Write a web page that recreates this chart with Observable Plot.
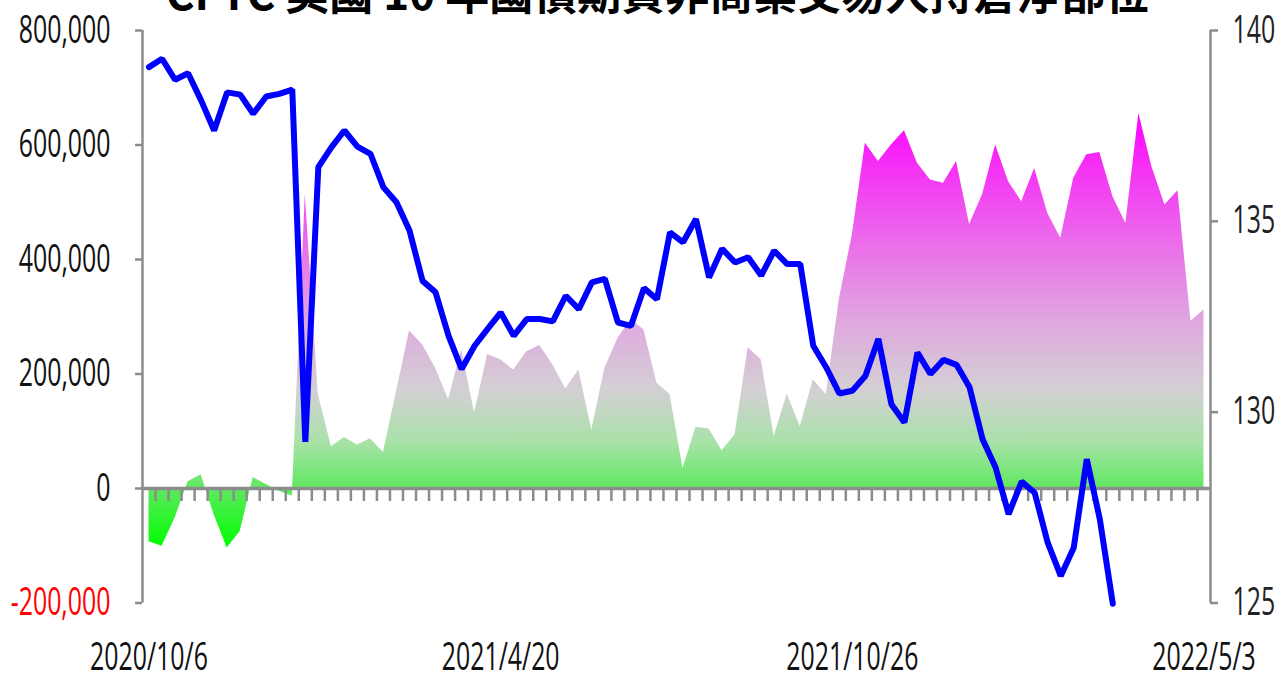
<!DOCTYPE html>
<html><head><meta charset="utf-8">
<script src="https://cdn.jsdelivr.net/npm/d3@7"></script>
<script src="https://cdn.jsdelivr.net/npm/@observablehq/plot@0.6"></script>
<style>
body{margin:0;background:#fff;overflow:hidden}
#wrap{position:relative;width:1281px;height:681px;overflow:hidden;background:#fff}
#title{position:absolute;left:0;top:-31px;width:1315px;text-align:center;font-family:"Noto Sans CJK TC",sans-serif;font-weight:bold;font-size:44px;line-height:44px;color:#000;white-space:nowrap;z-index:2}
</style></head><body>
<div id="wrap"><div id="title">CFTC 美國 10 年國債期貨非商業交易人持倉淨部位</div><div id="chart"></div></div>
<script>
// Weekly report dates (categories)
const dates = [
"2020/10/6","2020/10/13","2020/10/20","2020/10/27","2020/11/3","2020/11/10","2020/11/17","2020/11/24","2020/12/1","2020/12/8","2020/12/15","2020/12/22",
"2021/1/5","2021/1/12","2021/1/19","2021/1/26","2021/2/2","2021/2/9","2021/2/16","2021/2/23","2021/3/2","2021/3/9","2021/3/16","2021/3/23","2021/3/30","2021/4/6","2021/4/13","2021/4/20",
"2021/4/27","2021/5/4","2021/5/11","2021/5/18","2021/5/25","2021/6/1","2021/6/8","2021/6/15","2021/6/22","2021/6/29","2021/7/6","2021/7/13","2021/7/20","2021/7/27",
"2021/8/3","2021/8/10","2021/8/17","2021/8/24","2021/8/31","2021/9/7","2021/9/14","2021/9/21","2021/9/28","2021/10/5","2021/10/12","2021/10/19","2021/10/26",
"2021/11/2","2021/11/9","2021/11/16","2021/11/23","2021/11/30","2021/12/7","2021/12/14","2021/12/21","2021/12/28",
"2022/1/4","2022/1/11","2022/1/18","2022/1/25","2022/2/1","2022/2/8","2022/2/15","2022/2/22","2022/3/1","2022/3/8","2022/3/15","2022/3/22","2022/3/29",
"2022/4/5","2022/4/12","2022/4/19","2022/4/26","2022/5/3"
];
// Non-commercial net position (contracts), left axis
const netPositions = [
-93000,-101000,-52000,12000,24000,-46000,-104000,-75000,19000,7000,-5000,-13000,
513000,164000,73000,89000,76000,87000,63000,169000,275000,251000,210000,155000,242000,132000,234000,225000,
207000,239000,250000,216000,174000,207000,102000,210000,262000,295000,277000,184000,164000,35000,
107000,104000,66000,94000,246000,225000,91000,165000,108000,190000,164000,330000,443000,
603000,571000,600000,625000,568000,539000,533000,571000,461000,
513000,600000,536000,501000,559000,481000,437000,542000,583000,587000,510000,463000,655000,
562000,495000,520000,292000,312000
];
// 10-year T-note futures price, right axis (ends earlier than positions)
const futuresPrice = [
139.04,139.26,138.71,138.88,138.17,137.38,138.38,138.32,137.82,138.27,138.34,138.45,
129.22,136.42,136.94,137.38,136.96,136.77,135.89,135.50,134.76,133.44,133.14,132.00,131.13,131.74,132.18,132.61,
132.00,132.44,132.44,132.38,133.05,132.70,133.40,133.49,132.35,132.26,133.25,132.96,134.71,134.45,
135.06,133.53,134.28,133.92,134.06,133.58,134.23,133.88,133.88,131.74,131.17,130.49,130.56,
130.95,131.92,130.21,129.73,131.56,131.00,131.37,131.24,130.65,
129.29,128.55,127.33,128.18,127.89,126.58,125.71,126.45,128.77,127.20,124.98
];
const leftTicks = [-200000, 0, 200000, 400000, 600000, 800000];
const rightTicks = [125, 130, 135, 140];
const xTickLabels = ["2020/10/6","2021/4/20","2021/10/26","2022/5/3"];

// ---- layout / style ----
const W = 1281, H = 681, mL = 142, mR = 71, mT = 30, mB = 78.5;
const step = (W - mL - mR) / dates.length;
const plotH = H - mT - mB;
const yDomain = [-200000, 800000];
const unitsPerPx = (yDomain[1] - yDomain[0]) / plotH;
const xDomain = [-0.5, dates.length - 0.5];
const priceToY = d3.scaleLinear([125, 140], yDomain);
const axisColor = "#8c8c8c";
const FS = 38, SX = 0.655;

const rows = dates.map((d, i) => ({i, date: d, net: netPositions[i]}));
const priceRows = futuresPrice.map((p, i) => ({i, p}));

const chart = Plot.plot({
  width: W, height: H,
  marginLeft: mL, marginRight: mR, marginTop: mT, marginBottom: mB,
  x: {type: "linear", domain: xDomain, axis: null},
  y: {domain: yDomain, axis: null},
  style: {fontFamily: "'Open Sans', sans-serif", background: "white", overflow: "visible"},
  marks: [
    Plot.areaY(rows, {x: "i", y: "net", fill: "url(#netGrad)"}),
    Plot.ruleX(xDomain, {stroke: axisColor, strokeWidth: 2.5}),
    Plot.ruleY([0], {x1: xDomain[0], x2: xDomain[1], stroke: axisColor, strokeWidth: 3.5}),
    Plot.ruleX(dates.slice(1), {x: (d, k) => k + 0.5, y1: 0, y2: -13 * unitsPerPx, stroke: axisColor, strokeWidth: 2.5}),
    Plot.ruleY(leftTicks, {y: d => d, x1: xDomain[0] - 7 / step, x2: xDomain[0], stroke: axisColor, strokeWidth: 2.5}),
    Plot.ruleY(rightTicks, {y: d => priceToY(d), x1: xDomain[1], x2: xDomain[1] + 8 / step, stroke: axisColor, strokeWidth: 2.5}),
    Plot.text(leftTicks.filter(d => d >= 0), {x: xDomain[0], y: d => d, text: d => d3.format(",")(d), textAnchor: "end", dx: -32, fontSize: FS, fill: "#111"}),
    Plot.text(leftTicks.filter(d => d < 0), {x: xDomain[0], y: d => d, text: d => d3.format(",")(d).replace("−", "-"), textAnchor: "end", dx: -32, fontSize: FS, fill: "#ff0000"}),
    Plot.text(rightTicks, {x: xDomain[1], y: d => priceToY(d), text: d => String(d), textAnchor: "start", dx: 22, fontSize: FS, fill: "#222"}),
    Plot.text(xTickLabels, {x: d => dates.indexOf(d), y: yDomain[0], dy: 55, text: d => d, fontSize: FS, fill: "#111"}),
    Plot.lineY(priceRows, {x: "i", y: d => priceToY(d.p), stroke: "#0000ff", strokeWidth: 6, strokeLinejoin: "miter"})
  ]
});

// gradient fill for the net-position area
const ns = "http://www.w3.org/2000/svg";
const ys = chart.scale("y");
const yPx = d3.scaleLinear(ys.domain, ys.range);
const netMax = d3.max(netPositions), netMin = d3.min(netPositions);
const gradStops = [
  [655000, "#ff00ff"], [560000, "#f531f5"], [420000, "#ea70ea"], [290000, "#dfa8df"],
  [170000, "#d3d0d3"], [80000, "#a8e2a8"], [0, "#5fe85f"], [-104000, "#00ff00"]
];
const defs = document.createElementNS(ns, "defs");
const grad = document.createElementNS(ns, "linearGradient");
grad.setAttribute("id", "netGrad");
grad.setAttribute("gradientUnits", "userSpaceOnUse");
grad.setAttribute("x1", 0); grad.setAttribute("x2", 0);
grad.setAttribute("y1", yPx(netMax)); grad.setAttribute("y2", yPx(netMin));
for (const [v, c] of gradStops) {
  const s = document.createElementNS(ns, "stop");
  s.setAttribute("offset", Math.max(0, Math.min(1, (netMax - v) / (netMax - netMin))));
  s.setAttribute("stop-color", c);
  grad.appendChild(s);
}
defs.appendChild(grad);
chart.insertBefore(defs, chart.firstChild);

// condense tick label glyphs horizontally
chart.querySelectorAll("text").forEach(t => {
  const tr = t.getAttribute("transform") || "";
  const x = parseFloat(t.getAttribute("x")) || 0;
  t.setAttribute("transform", `${tr} translate(${x},0) scale(${SX},1) translate(${-x},0)`);
});

document.getElementById("chart").appendChild(chart);
</script>
</body></html>
